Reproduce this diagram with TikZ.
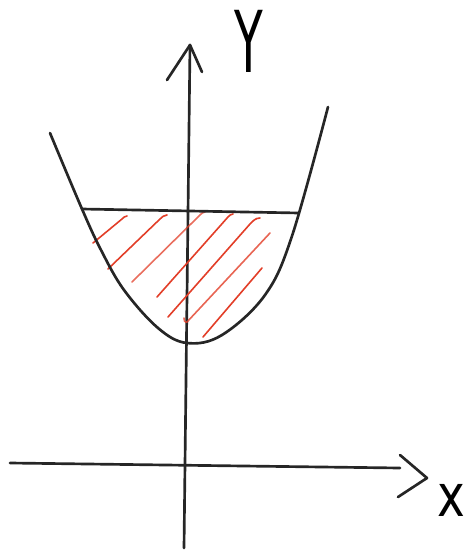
\documentclass[tikz,border=0pt]{standalone}
\usepackage{fontspec}
\setsansfont{DejaVu Sans}
\begin{document}
\begin{tikzpicture}[x=0.75pt,y=-0.75pt,
  ink/.style={line width=2pt,line cap=round,line join=round,black!85},
  hatch/.style={line width=1.2pt,line cap=round,color={rgb,255:red,226;green,62;blue,40}},
  lbl/.style={inner sep=0pt,font=\sffamily}]
\useasboundingbox (0,0) rectangle (467,553);
% axes
\coordinate (ybot) at (184,548);
\coordinate (ytop) at (190,45);
\coordinate (xl) at (10,463);
\coordinate (xr) at (400,468);
\draw[ink] (ybot) -- (ytop);
\draw[ink] (167,80) -- (ytop) -- (202,72);
\draw[ink] (xl) -- (xr);
\draw[ink] (400,455) -- (427,478) -- (398,497);
\node[lbl] (ylab) at (249,41) {\scalebox{0.55}[1]{\fontsize{64}{64}\selectfont Y}};
\node[lbl] (xlab) at (451,500) {\scalebox{0.8}[1]{\fontsize{44}{44}\selectfont x}};
% hatching
\draw[hatch] (93,243) -- (122,219) to[out=40,in=180] (127,216);
\draw[hatch] (108,269) -- (160,219) to[out=40,in=180] (167,215);
\draw[hatch,opacity=0.75] (132,282) -- (200,215) to[out=40,in=180] (205,212);
\draw[hatch] (157,297) -- (228,217) to[out=40,in=180] (233,214);
\draw[hatch] (168,317) -- (250,224) to[out=45,in=180] (260,218);
\draw[hatch,opacity=0.8] (184,318) to[out=-120,in=-150] (187,322) -- (270,233);
\draw[hatch] (203,337) -- (262,268);
% parabola
\draw[ink] plot[smooth,tension=0.6] coordinates {(50,133) (82,209) (101,250) (124,290) (158,328) (187,343) (222,335) (265,295) (292,236) (328,107)};
\draw[ink] (82,209) -- (299,213);
\end{tikzpicture}
\end{document}
